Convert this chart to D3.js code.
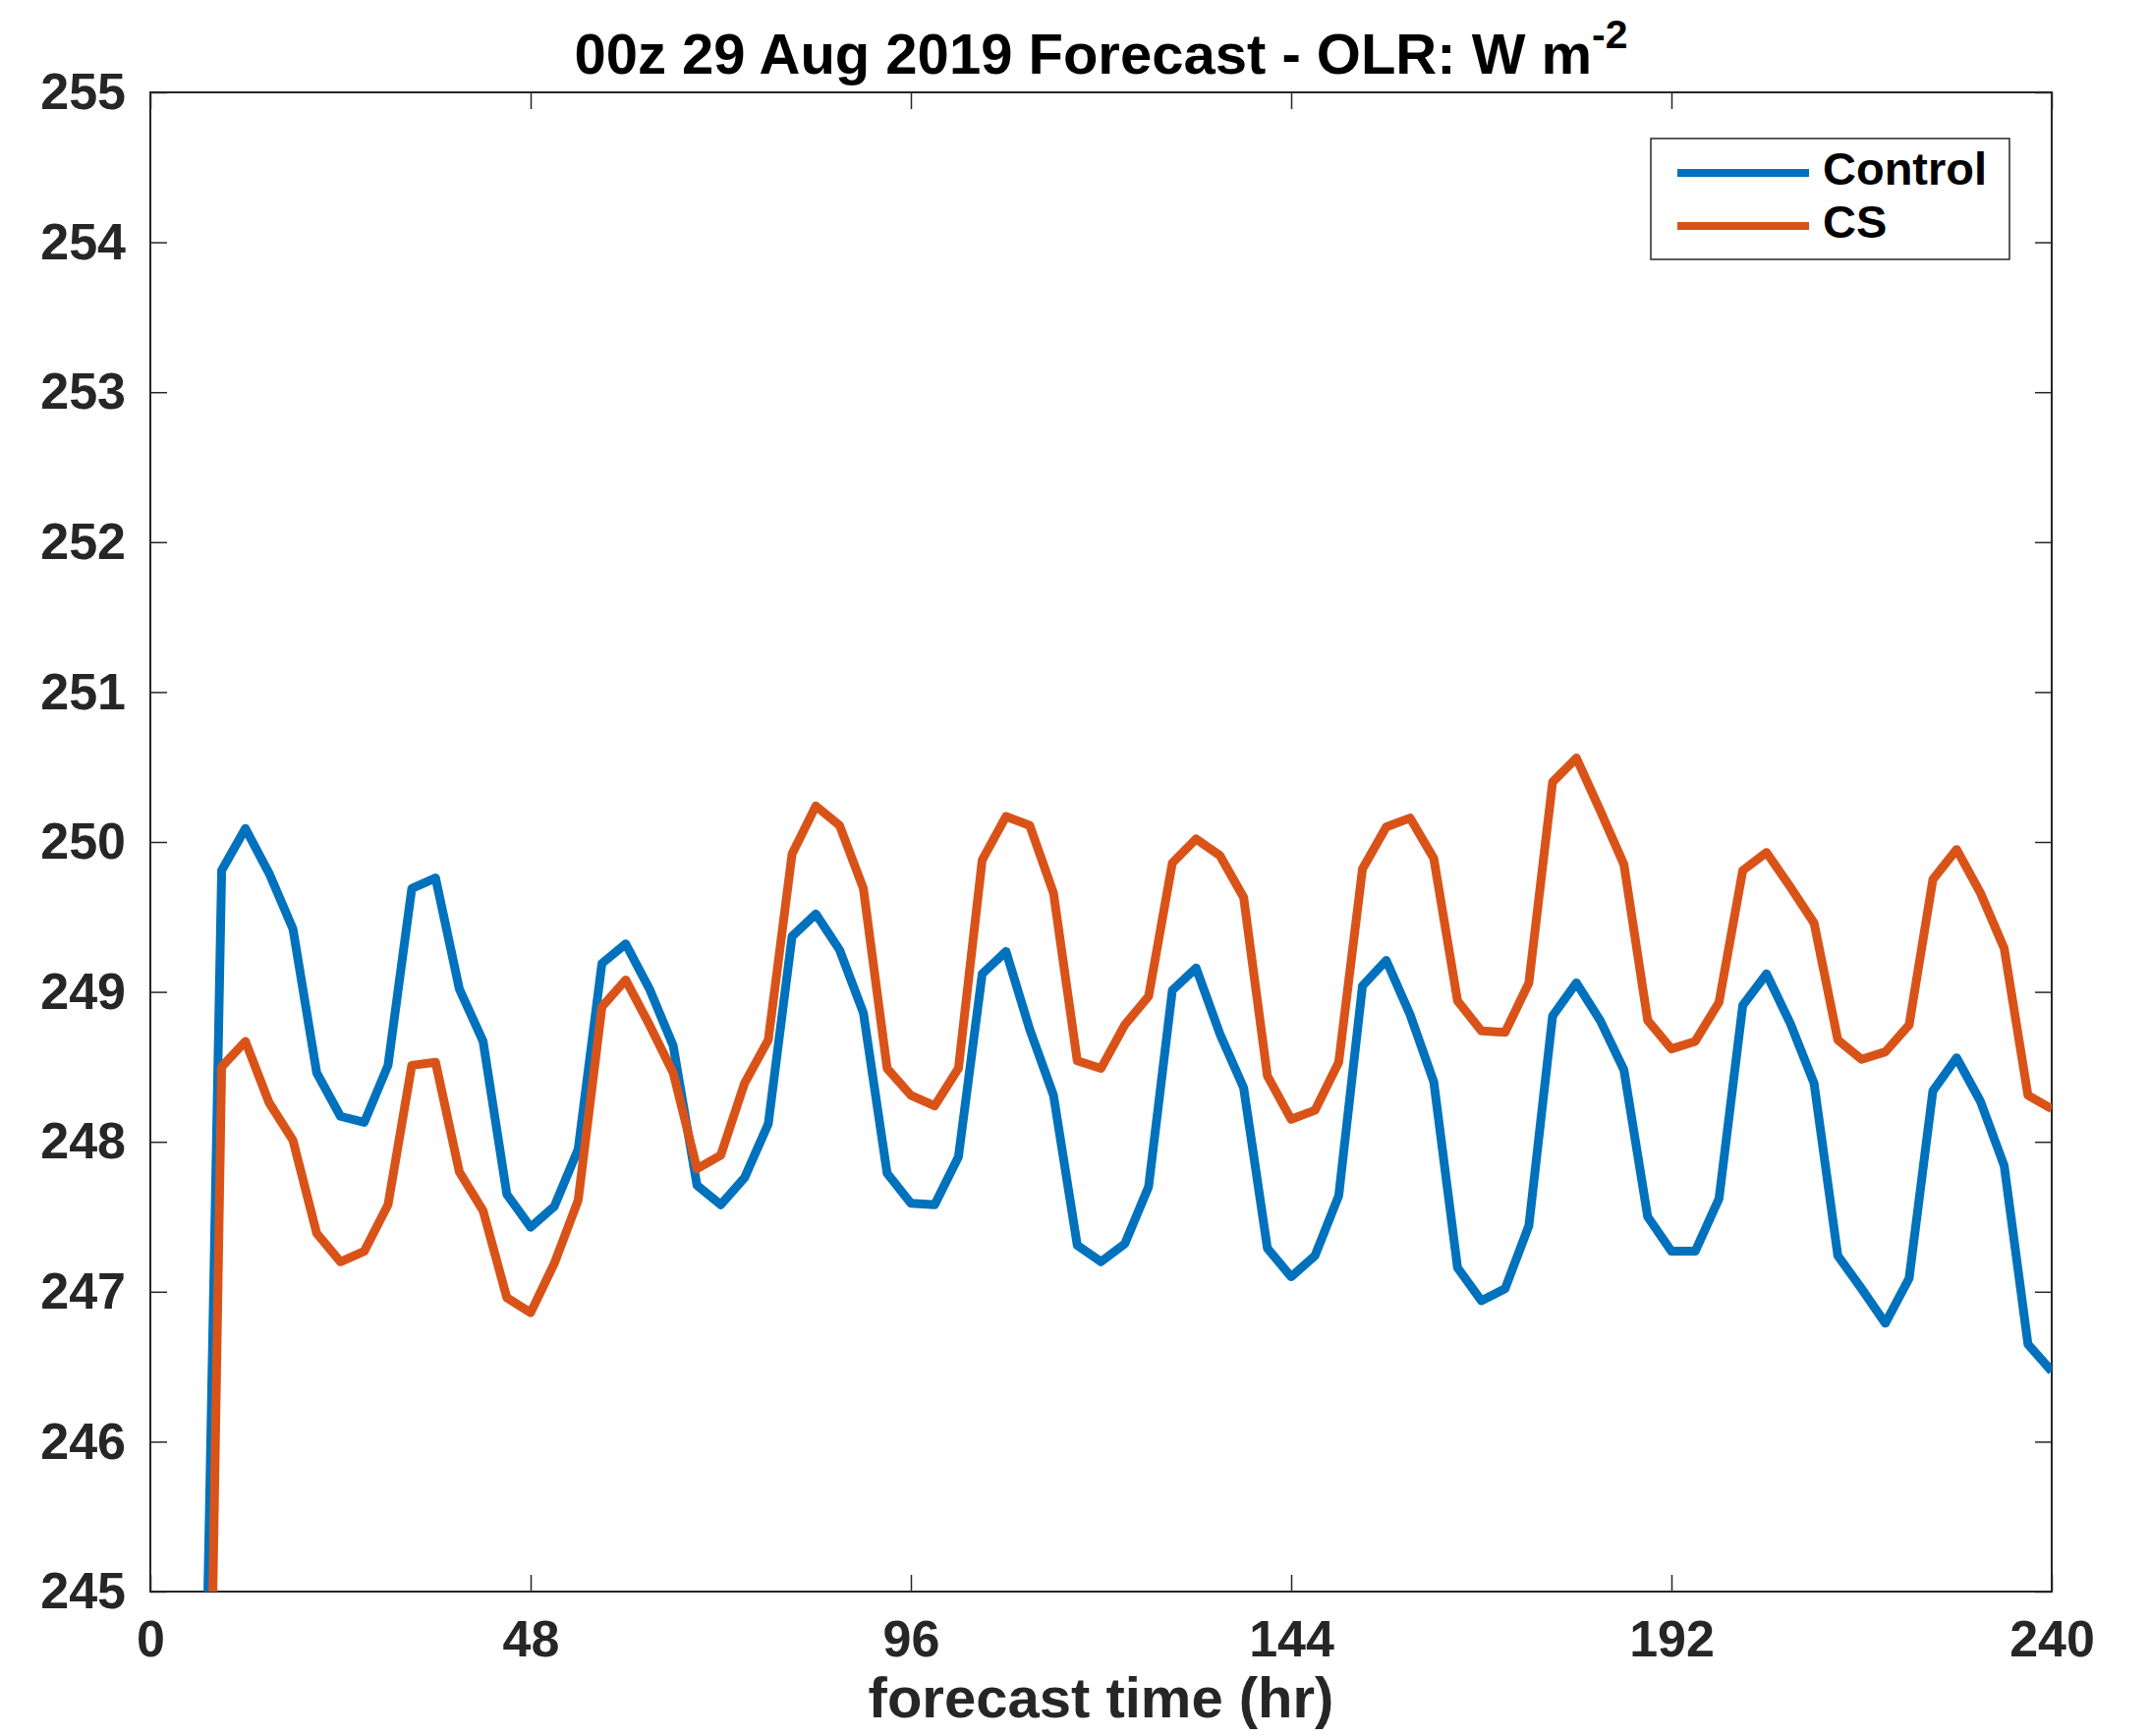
<!DOCTYPE html>
<html>
<head>
<meta charset="utf-8">
<script src="https://cdn.jsdelivr.net/npm/d3@7"></script>
<style>
  html, body { margin: 0; padding: 0; background: #fff; }
  #chart { width: 2187px; height: 1767px; }
  text { font-family: "Liberation Sans", Arial, Helvetica, sans-serif; font-weight: bold; }
</style>
</head>
<body>
<div id="chart"></div>
<script>
// forecast hours (3-hourly output)
const hours = [
    6, 9, 12, 15, 18, 21, 24, 27, 30, 33, 36, 39, 42, 45, 48, 51, 54, 57, 60, 63,
    66, 69, 72, 75, 78, 81, 84, 87, 90, 93, 96, 99, 102, 105, 108, 111, 114, 117, 120, 123,
    126, 129, 132, 135, 138, 141, 144, 147, 150, 153, 156, 159, 162, 165, 168, 171, 174, 177, 180, 183,
    186, 189, 192, 195, 198, 201, 204, 207, 210, 213, 216, 219, 222, 225, 228, 231, 234, 237, 240
];

const controlOlr = [
    241.5, 249.81, 250.09, 249.79, 249.42, 248.46, 248.17, 248.13, 248.51, 249.69, 249.76, 249.02, 248.67, 247.65, 247.43, 247.57, 247.95, 249.19, 249.32, 249.02,
    248.64, 247.71, 247.58, 247.76, 248.12, 249.37, 249.52, 249.28, 248.86, 247.79, 247.59, 247.58, 247.90, 249.12, 249.27, 248.75, 248.31, 247.31, 247.20, 247.32,
    247.70, 249.01, 249.16, 248.72, 248.36, 247.29, 247.10, 247.24, 247.64, 249.04, 249.21, 248.85, 248.40, 247.16, 246.94, 247.02, 247.44, 248.84, 249.06, 248.81,
    248.48, 247.50, 247.27, 247.27, 247.62, 248.91, 249.12, 248.79, 248.39, 247.24, 247.02, 246.79, 247.09, 248.34, 248.56, 248.27, 247.84, 246.65, 246.47
];

const csOlr = [
    239.0, 248.50, 248.67, 248.26, 248.01, 247.39, 247.20, 247.27, 247.58, 248.51, 248.53, 247.80, 247.54, 246.96, 246.86, 247.19, 247.61, 248.90, 249.08, 248.78,
    248.46, 247.82, 247.91, 248.39, 248.68, 249.92, 250.24, 250.11, 249.69, 248.49, 248.31, 248.24, 248.49, 249.88, 250.17, 250.11, 249.66, 248.54, 248.49, 248.78,
    248.97, 249.86, 250.02, 249.91, 249.63, 248.44, 248.15, 248.21, 248.53, 249.82, 250.10, 250.16, 249.89, 248.94, 248.74, 248.73, 249.06, 250.40, 250.56, 250.21,
    249.85, 248.81, 248.62, 248.67, 248.93, 249.81, 249.93, 249.70, 249.46, 248.68, 248.55, 248.60, 248.78, 249.75, 249.95, 249.66, 249.29, 248.31, 248.22
];

const seriesNames = ["Control", "CS"];
const seriesColors = ["#0072BD", "#D95319"];
const xTicks = [0, 48, 96, 144, 192, 240];
const yTicks = [245, 246, 247, 248, 249, 250, 251, 252, 253, 254, 255];

const width = 2187;
const height = 1767;
const margin = { top: 94, right: 99, bottom: 147, left: 153 };
const plotW = width - margin.left - margin.right;
const plotH = height - margin.top - margin.bottom;
const axisColor = "#262626";
const tickLen = 17;

const svg = d3.select("#chart")
    .append("svg")
    .attr("width", width)
    .attr("height", height);

svg.append("defs").append("clipPath")
    .attr("id", "plot-clip")
    .append("rect")
    .attr("width", plotW)
    .attr("height", plotH);

const g = svg.append("g")
    .attr("transform", `translate(${margin.left},${margin.top})`);

const x = d3.scaleLinear().domain([0, 240]).range([0, plotW]);
const y = d3.scaleLinear().domain([245, 255]).range([plotH, 0]);

// axes: ticks pointing inward on all four sides (box on)
function styleAxis(sel) {
    sel.select(".domain").remove();
    sel.selectAll(".tick line").attr("stroke", axisColor).attr("stroke-width", 1.5);
    sel.selectAll(".tick text")
        .attr("fill", axisColor)
        .style("font-size", "52px");
}

g.append("g")
    .attr("transform", `translate(0,${plotH})`)
    .call(d3.axisBottom(x).tickValues(xTicks).tickSize(-tickLen).tickPadding(29))
    .call(styleAxis)
    .call(s => s.selectAll(".tick text").attr("dy", "0.71em"));

g.append("g")
    .call(d3.axisTop(x).tickValues(xTicks).tickSize(-tickLen).tickFormat(""))
    .call(styleAxis);

g.append("g")
    .call(d3.axisLeft(y).tickValues(yTicks).tickSize(-tickLen).tickPadding(25))
    .call(styleAxis);

g.append("g")
    .attr("transform", `translate(${plotW},0)`)
    .call(d3.axisRight(y).tickValues(yTicks).tickSize(-tickLen).tickFormat(""))
    .call(styleAxis);

// frame
g.append("rect")
    .attr("width", plotW)
    .attr("height", plotH)
    .attr("fill", "none")
    .attr("stroke", axisColor)
    .attr("stroke-width", 2);

// lines
const line = d3.line()
    .x((d, i) => x(hours[i]))
    .y(d => y(d));

const lines = g.append("g").attr("clip-path", "url(#plot-clip)");
[controlOlr, csOlr].forEach((vals, k) => {
    lines.append("path")
        .datum(vals)
        .attr("d", line)
        .attr("fill", "none")
        .attr("stroke", seriesColors[k])
        .attr("stroke-width", 9)
        .attr("stroke-linejoin", "round");
});

// title
const title = svg.append("text")
    .attr("x", margin.left + plotW / 2)
    .attr("y", 75)
    .attr("text-anchor", "middle")
    .attr("fill", "#000")
    .style("font-size", "58px")
    .text("00z 29 Aug 2019 Forecast - OLR: W m");
title.append("tspan")
    .attr("dy", -26)
    .style("font-size", "41px")
    .text("-2");

// x label
svg.append("text")
    .attr("x", margin.left + plotW / 2)
    .attr("y", 1748)
    .attr("text-anchor", "middle")
    .attr("fill", axisColor)
    .style("font-size", "58px")
    .text("forecast time (hr)");

// legend
const legend = svg.append("g").attr("transform", "translate(1680,141)");
legend.append("rect")
    .attr("width", 365)
    .attr("height", 123)
    .attr("fill", "#fff")
    .attr("stroke", axisColor)
    .attr("stroke-width", 1.5);
seriesNames.forEach((name, k) => {
    const ly = 35 + k * 54;
    legend.append("line")
        .attr("x1", 27).attr("x2", 161)
        .attr("y1", ly).attr("y2", ly)
        .attr("stroke", seriesColors[k])
        .attr("stroke-width", 8);
    legend.append("text")
        .attr("x", 175)
        .attr("y", ly + 12)
        .attr("fill", "#000")
        .style("font-size", "47px")
        .text(name);
});
</script>
</body>
</html>
